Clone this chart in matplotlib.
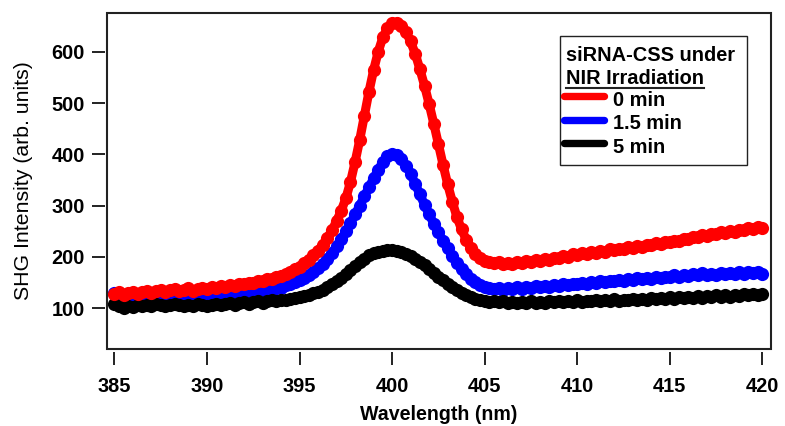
import numpy as np
import matplotlib
matplotlib.use("Agg")
import matplotlib.pyplot as plt
from matplotlib.patches import Rectangle
from matplotlib.lines import Line2D

plt.rcParams['font.family'] = ['Liberation Sans', 'DejaVu Sans']

# wavelength grid, 0.25 nm steps
wavelength = np.linspace(385, 420, 141)

# SHG intensity (arb. units)
red_0min = [
    127, 131, 126, 129, 132, 128, 131, 134, 130, 133, 136, 131, 135, 138, 133, 136,
    139, 134, 137, 140, 137, 141, 139, 143, 141, 145, 143, 148, 147, 150, 149, 153,
    154, 157, 158, 162, 163, 167, 171, 176, 181, 188, 195, 203, 212, 224, 237, 252,
    270, 290, 314, 346, 385, 428, 475, 522, 564, 600, 628, 646, 655, 656, 650, 638,
    620, 596, 566, 534, 498, 460, 420, 380, 342, 308, 278, 254, 234, 218, 206, 198,
    193, 190, 188, 191, 187, 189, 186, 190, 188, 192, 190, 194, 192, 196, 195, 199,
    198, 202, 200, 205, 204, 207, 206, 210, 208, 212, 210, 215, 213, 216, 215, 219,
    218, 221, 220, 224, 223, 227, 225, 229, 229, 232, 231, 236, 235, 239, 238, 242,
    241, 245, 244, 248, 247, 250, 249, 253, 252, 256, 255, 259, 256,
]
blue_15min = [
    130, 127, 124, 126, 123, 125, 122, 124, 121, 123, 120, 122, 121, 119, 122, 120,
    122, 119, 121, 123, 120, 122, 121, 124, 122, 125, 123, 126, 125, 128, 127, 131,
    131, 134, 136, 140, 140, 145, 147, 152, 155, 160, 164, 170, 178, 187, 197, 208,
    221, 235, 250, 266, 283, 300, 318, 336, 353, 370, 385, 396, 401, 399, 391, 378,
    362, 342, 322, 302, 283, 265, 248, 232, 217, 202, 189, 177, 166, 158, 151, 146,
    142, 140, 137, 139, 136, 139, 137, 141, 138, 142, 140, 143, 141, 144, 142, 146,
    144, 147, 145, 148, 147, 150, 148, 152, 150, 153, 151, 154, 153, 156, 154, 157,
    156, 159, 157, 160, 158, 161, 159, 162, 161, 164, 162, 165, 163, 166, 164, 168,
    165, 167, 165, 169, 166, 168, 166, 170, 167, 171, 168, 170, 166,
]
black_5min = [
    108, 104, 101, 104, 102, 106, 104, 107, 105, 108, 106, 104, 107, 109, 106, 104,
    107, 105, 108, 106, 104, 107, 109, 106, 108, 110, 107, 110, 112, 109, 112, 114,
    111, 114, 116, 114, 117, 116, 119, 120, 122, 124, 126, 129, 132, 136, 141, 147,
    153, 160, 167, 175, 183, 190, 197, 203, 207, 210, 212, 214, 213, 212, 209, 206,
    202, 197, 191, 184, 177, 169, 162, 155, 148, 141, 135, 130, 126, 122, 119, 117,
    115, 113, 114, 112, 114, 111, 113, 110, 113, 111, 114, 110, 113, 111, 114, 112,
    115, 112, 114, 113, 116, 113, 115, 114, 117, 114, 116, 115, 118, 114, 117, 116,
    119, 116, 118, 117, 120, 118, 121, 119, 122, 119, 122, 120, 123, 121, 124, 121,
    124, 122, 125, 123, 126, 123, 126, 124, 127, 125, 128, 126, 127,
]

labels = ['0 min', '1.5 min', '5 min']
colors = ['#ff0000', '#0000ff', '#000000']
series = [red_0min, blue_15min, black_5min]

fig = plt.figure(figsize=(7.85, 4.26), dpi=100)
ax = fig.add_axes([0.1363, 0.1819, 0.8455, 0.7876])

# draw blue, black, then red on top
for idx in [1, 2, 0]:
    ax.plot(wavelength, series[idx], color=colors[idx], lw=6.5, marker='o',
            ms=9.5, mew=0, solid_capstyle='round', solid_joinstyle='round')

ax.set_xlim(384.6, 420.45)
ax.set_ylim(21.7, 675.4)
ax.set_xticks(np.arange(385, 421, 5))
ax.set_yticks(np.arange(100, 601, 100))

# Igor-style: detached tick axes plus a plain frame
for side in ['top', 'right', 'left', 'bottom']:
    ax.spines[side].set_visible(False)
ax.spines['left'].set_position(('outward', 1.5))
ax.spines['bottom'].set_position(('outward', 2.2))
ax.tick_params(axis='both', direction='out', length=9.4, width=1.4,
               labelsize=14.4, color='#222222')
ax.tick_params(axis='y', pad=5)
ax.tick_params(axis='x', pad=9)
for lab in ax.get_xticklabels() + ax.get_yticklabels():
    lab.set_fontweight('bold')
ax.add_patch(Rectangle((0, 0), 1, 1, transform=ax.transAxes, fill=False,
                       lw=1.5, ec='#222222', clip_on=False, zorder=5))

ax.set_xlabel('Wavelength (nm)', fontsize=14.1, fontweight='bold')
ax.set_ylabel('SHG Intensity (arb. units)', fontsize=15.3)
ax.xaxis.set_label_coords(0.5, -0.168)
ax.yaxis.set_label_coords(-0.111, 0.5)

# legend box
ax.add_patch(Rectangle((0.6825, 0.546), 0.2818, 0.3858, transform=ax.transAxes,
                       fill=True, fc='white', ec='#222222', lw=1.0, zorder=6))
ax.text(0.6916, 0.8576, 'siRNA-CSS under', transform=ax.transAxes,
        fontsize=14.4, fontweight='bold', va='baseline', zorder=7)
t2 = ax.text(0.6916, 0.7893, 'NIR Irradiation', transform=ax.transAxes,
             fontsize=14.4, fontweight='bold', va='baseline', zorder=7)
line_y = [0.7516, 0.6825, 0.6113]
text_y = [0.722, 0.6528, 0.5816]
for i in range(3):
    ax.add_line(Line2D([0.6886, 0.7489], [line_y[i], line_y[i]], transform=ax.transAxes,
                       color=colors[i], lw=5.3, solid_capstyle='round', zorder=7))
    ax.text(0.762, text_y[i], labels[i], transform=ax.transAxes,
            fontsize=14.4, fontweight='bold', va='baseline', zorder=7)

# underline the second title line
fig.canvas.draw()
bb = t2.get_window_extent()
inv = ax.transAxes.inverted()
(x0, _), (x1, _) = inv.transform([(bb.x0, bb.y0), (bb.x1, bb.y0)])
ax.add_line(Line2D([x0, x1], [0.7774, 0.7774], transform=ax.transAxes,
                   color='#222222', lw=1.5, zorder=7))

fig.savefig('out.png', dpi=100)
